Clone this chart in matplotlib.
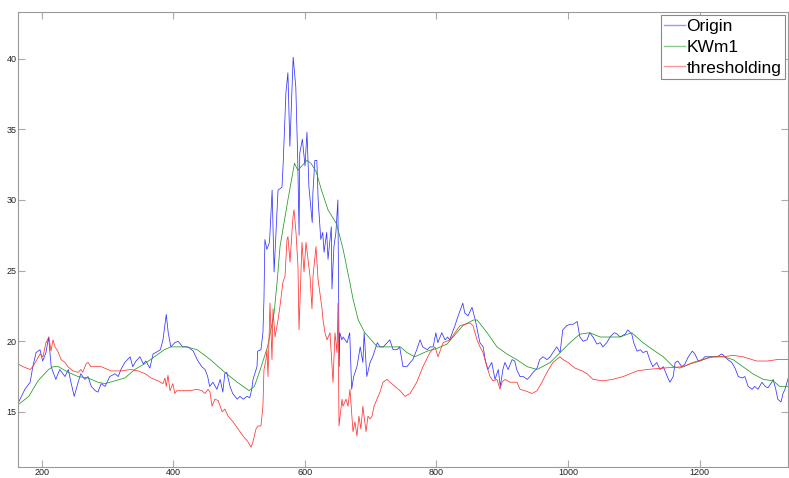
import numpy as np
import matplotlib
matplotlib.use("Agg")
import matplotlib.pyplot as plt

# Origin (noisy signal)
x_orig = [163.5, 174, 182, 186, 191, 197, 201, 206, 210, 214, 217, 221, 227, 235, 240, 244, 249, 255, 259, 265,
          270, 275, 281, 285, 290, 296, 303, 311, 316, 320, 326, 334, 338, 343, 349, 354, 358, 364, 369, 373,
          380, 384, 389, 392, 396, 402, 407, 414, 422, 430, 436, 443, 448, 452, 455, 460, 466, 471, 475, 478,
          481, 486, 490, 497, 501, 506, 512, 516, 519, 521, 527, 528, 533, 536, 537.6, 539, 542, 546, 550, 553,
          559, 565, 567, 571, 574, 577, 582, 586, 589, 591, 592, 596, 600, 603, 606, 611, 612, 615, 618, 620,
          624, 627, 629, 633, 635, 640, 641, 644, 647, 650, 652, 653, 656, 658, 664, 668, 671, 674, 679, 684,
          688, 690, 694, 699, 703, 710, 714, 719, 725, 729, 734, 740, 744, 749, 755, 760, 764, 770, 775, 779,
          786, 790, 795, 799, 802, 808, 813, 817, 820, 828, 833, 840, 843, 848, 854, 859, 863, 866, 871, 874,
          878, 884, 889, 894, 897, 901, 904, 909, 915, 919, 922, 927, 932, 938, 942, 947, 953, 957, 962, 968,
          973, 977, 983, 988, 992, 998, 1003, 1008, 1014, 1018, 1023, 1029, 1033, 1038, 1044, 1049, 1053, 1059, 1064, 1068,
          1071, 1075, 1079, 1087, 1091, 1097, 1100, 1105, 1110, 1114, 1120, 1125, 1129, 1135, 1140, 1145, 1151, 1155, 1160, 1163,
          1167, 1173, 1178, 1183, 1189, 1193, 1198, 1204, 1208, 1213, 1221, 1227, 1234, 1239, 1243, 1249, 1254, 1259, 1265, 1269,
          1274, 1280, 1284, 1289, 1295, 1300, 1304, 1310, 1312, 1316, 1319, 1324, 1327, 1330, 1335]
y_orig = [15.6, 16.6, 17.1, 18.2, 19.2, 19.4, 18.6, 19.2, 20.3, 18.2, 17.8, 17.3, 18.0, 17.5, 18.0, 17.1, 16.1, 17.1, 17.7, 17.3,
          17.5, 16.8, 16.5, 16.4, 17.0, 16.8, 17.5, 17.7, 17.5, 18.0, 18.5, 18.9, 18.2, 18.6, 18.9, 18.4, 18.6, 18.1, 19.1, 19.2,
          19.4, 20.1, 21.9, 20.6, 19.6, 19.9, 20.0, 19.6, 19.6, 19.3, 18.7, 18.2, 18.0, 17.5, 16.8, 17.1, 16.6, 17.3, 16.4, 17.7,
          17.8, 16.8, 16.3, 15.9, 16.1, 15.9, 16.1, 16.0, 16.6, 17.3, 18.2, 19.3, 19.4, 20.6, 23.0, 27.2, 26.5, 27.0, 30.7, 24.9,
          30.7, 30.9, 32.8, 37.6, 39.0, 33.8, 40.1, 38.0, 32.8, 27.5, 33.3, 34.3, 32.4, 34.8, 30.9, 28.4, 30.5, 32.8, 32.8, 30.0,
          27.2, 27.7, 26.3, 27.7, 25.8, 28.1, 23.7, 26.7, 27.7, 30.0, 18.2, 20.6, 20.1, 20.3, 19.9, 20.6, 16.6, 17.5, 18.2, 19.6,
          18.5, 20.6, 17.5, 18.5, 18.9, 19.9, 19.6, 19.6, 19.9, 20.1, 19.4, 19.4, 19.6, 18.2, 18.2, 18.5, 18.7, 19.4, 20.1, 19.6,
          19.4, 19.6, 19.6, 20.6, 19.9, 20.6, 20.1, 20.3, 20.1, 21.1, 21.8, 22.7, 22.0, 21.8, 22.4, 21.5, 20.6, 19.9, 19.6, 18.7,
          18.0, 18.5, 17.3, 18.0, 16.8, 18.0, 18.5, 18.0, 18.7, 18.6, 18.0, 17.5, 17.5, 17.3, 17.5, 17.8, 18.1, 18.7, 18.9, 18.7,
          18.9, 19.2, 19.6, 19.2, 20.8, 21.1, 21.2, 21.2, 21.4, 20.3, 20.0, 20.1, 20.6, 20.3, 19.8, 19.9, 19.6, 19.9, 20.3, 20.5,
          20.6, 20.5, 20.3, 20.5, 20.8, 20.5, 19.9, 19.3, 19.4, 19.2, 19.3, 18.6, 18.2, 18.5, 18.0, 18.2, 17.5, 17.1, 17.5, 18.5,
          18.6, 18.2, 18.4, 18.9, 19.3, 19.1, 18.6, 18.7, 18.9, 18.9, 18.9, 18.9, 19.1, 18.9, 18.7, 18.5, 18.1, 17.5, 17.4, 17.5,
          16.8, 16.6, 16.8, 16.6, 17.1, 16.8, 16.7, 17.1, 17.3, 16.6, 15.9, 15.7, 16.3, 16.6, 17.4]

# KWm1 (smooth)
x_kw = [163.5, 180, 194, 210, 217, 225, 240, 255, 270, 285, 296, 311, 326, 341, 356, 371, 386, 396, 407, 420,
        436, 456, 478, 497, 515, 523, 532, 543, 553, 558, 562, 574, 584, 589, 597, 603, 609, 617, 625, 635,
        648, 658, 668, 673, 681, 691, 710, 729, 745, 755, 767, 786, 801, 816, 840, 856, 862, 877, 892, 907,
        922, 938, 953, 973, 988, 1003, 1018, 1033, 1049, 1079, 1097, 1114, 1129, 1145, 1160, 1170, 1186, 1201, 1216, 1236,
        1251, 1266, 1281, 1297, 1312, 1322, 1335]
y_kw = [15.5, 16.1, 17.2, 18.0, 18.2, 18.2, 17.8, 17.5, 17.4, 17.1, 17.0, 17.2, 17.4, 18.0, 18.4, 18.9, 19.4, 19.6, 19.6, 19.6,
        19.4, 18.7, 17.8, 17.1, 16.5, 16.8, 18.0, 19.6, 22.0, 24.4, 26.7, 30.0, 32.6, 32.1, 32.5, 32.8, 32.6, 32.0, 30.7, 29.3,
        28.3, 26.5, 24.2, 23.0, 21.5, 20.6, 19.6, 19.6, 19.6, 19.2, 18.9, 19.3, 19.5, 19.8, 21.1, 21.5, 21.5, 20.6, 19.6, 19.1,
        18.7, 18.2, 18.0, 18.5, 19.2, 19.9, 20.5, 20.6, 20.3, 20.3, 20.6, 19.9, 19.4, 18.9, 18.2, 18.1, 18.4, 18.6, 18.9, 18.9,
        18.7, 18.2, 17.7, 17.3, 17.2, 16.8, 16.8]

# thresholding
x_thr = [163.5, 171, 182, 186, 191, 197, 201.5, 206, 210.6, 213.7, 216.7, 219.8, 224, 229, 235, 239.5, 247, 255, 259, 262,
         267, 270, 274.5, 281, 290, 305, 320, 335, 346, 357, 366, 376, 384, 387, 389, 391.6, 394.7, 399, 402, 405,
         414.5, 425, 436, 443, 448, 452.5, 455.5, 458.6, 463, 468, 474, 478, 483, 490.5, 498, 505.7, 513, 518, 521, 525.5,
         528.5, 533, 536, 537.6, 540.7, 542.2, 543.7, 546.8, 549.8, 551.3, 554.4, 559, 562, 566.5, 569.6, 572.6, 574.1, 577.2, 581.7, 583.3,
         586.3, 589.3, 590.9, 595.4, 598.5, 601.5, 604.5, 607.6, 610.6, 612.2, 616.7, 619.8, 625.9, 627.4, 630.4, 633.5, 638, 642.6, 645.6, 648.7,
         650.2, 651.7, 656.3, 657.8, 662.4, 665.4, 668.4, 673, 676, 679, 682, 685, 688, 692.8, 695.8, 699, 702, 705, 709.5, 714,
         718.6, 724.7, 729.3, 737, 744.5, 752, 759.7, 770, 779.4, 790, 797.7, 802.3, 810, 820.5, 835.7, 851, 855.5, 861.6, 866.2, 870.7,
         876.8, 881.4, 886, 892, 896.6, 899.6, 904.2, 911.8, 922.4, 927, 934.6, 945.3, 952.9, 960.5, 968, 977.2, 987.8, 992.4, 1000, 1010.6,
         1021.3, 1029, 1038, 1053, 1068, 1084, 1105, 1120, 1144.5, 1175, 1190, 1205, 1220.5, 1236, 1251, 1266, 1287, 1303, 1318, 1335]
y_thr = [18.4, 18.2, 18.0, 18.2, 18.6, 19.1, 18.9, 19.9, 20.3, 19.3, 20.1, 19.6, 19.3, 18.7, 18.5, 18.2, 17.9, 17.8, 18.0, 17.8,
         18.4, 18.5, 18.2, 18.2, 18.2, 17.9, 17.9, 18.0, 17.9, 17.7, 17.4, 17.2, 17.0, 17.4, 16.8, 17.6, 16.5, 17.0, 16.3, 16.5,
         16.5, 16.5, 16.6, 16.5, 16.3, 16.6, 16.4, 15.4, 15.9, 15.8, 15.0, 15.2, 14.7, 14.3, 13.8, 13.3, 12.9, 12.5, 12.9, 13.8,
         14.0, 14.0, 15.4, 18.0, 18.7, 19.4, 17.5, 22.7, 18.7, 22.3, 20.3, 21.5, 22.5, 24.2, 24.6, 27.2, 27.4, 25.6, 28.8, 29.3,
         27.7, 25.3, 20.8, 27.0, 24.9, 27.0, 25.8, 24.6, 22.3, 24.6, 26.7, 24.4, 22.3, 21.5, 20.6, 20.1, 20.6, 17.1, 20.6, 19.2,
         22.7, 14.0, 15.9, 15.4, 15.9, 15.4, 16.6, 13.6, 14.3, 13.3, 14.7, 13.8, 15.4, 13.6, 14.7, 14.5, 14.7, 15.4, 15.9, 16.4,
         17.1, 17.3, 17.1, 16.8, 16.5, 16.1, 16.3, 17.1, 18.2, 19.2, 19.6, 18.9, 19.9, 20.1, 21.1, 21.3, 21.1, 20.1, 19.6, 19.2,
         18.2, 17.5, 17.2, 17.3, 16.6, 17.1, 17.3, 17.1, 17.1, 16.6, 16.5, 16.3, 16.5, 17.1, 17.8, 18.5, 18.9, 18.7, 18.5, 18.1,
         17.9, 17.7, 17.3, 17.2, 17.3, 17.5, 17.9, 18.0, 18.1, 18.2, 18.5, 18.7, 18.9, 18.9, 19.0, 18.9, 18.6, 18.6, 18.7, 18.7]

plt.rcParams['font.family'] = ['Liberation Sans', 'DejaVu Sans']

fig = plt.figure(figsize=(7.89, 4.78), dpi=100)
ax = fig.add_axes([18 / 789, 1 - 467 / 478, 770 / 789, 455 / 478])

ax.plot(x_orig, y_orig, color='#3333ff', lw=0.55, label='Origin')
ax.plot(x_kw, y_kw, color='#229922', lw=0.55, label='KWm1')
ax.plot(x_thr, y_thr, color='#ff3333', lw=0.55, label='thresholding')

ax.set_xlim(163.5, 1334.6)
ax.set_ylim(11.1, 43.3)
ax.set_xticks([200, 400, 600, 800, 1000, 1200])
ax.set_yticks([15, 20, 25, 30, 35, 40])

for s in ax.spines.values():
    s.set_color('#999999')
    s.set_linewidth(0.8)
ax.tick_params(direction='in', length=5, width=0.8, color='#aaaaaa',
               labelsize=6.5, labelcolor='#222222', top=True, right=True, pad=1)

leg = ax.legend(loc='upper right', fontsize=12.5, handlelength=1.2, handletextpad=0.1,
                labelspacing=0.33, borderpad=0.18, borderaxespad=0.2,
                fancybox=False, framealpha=1, edgecolor='#888888')
leg.get_frame().set_linewidth(0.8)
for line, c in zip(leg.get_lines(), ['#9999ff', '#88cc88', '#ff9999']):
    line.set_linewidth(1.0)
    line.set_color(c)

fig.savefig('out.png', dpi=100)
